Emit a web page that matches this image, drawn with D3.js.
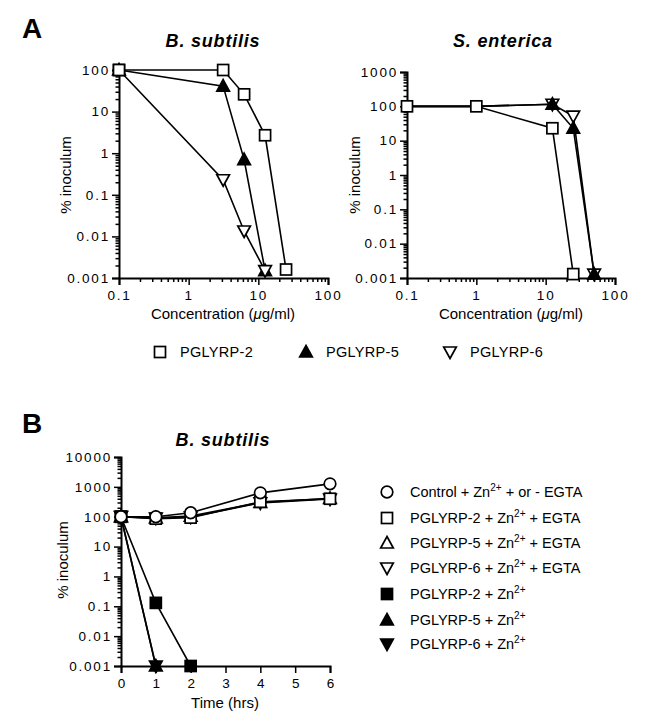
<!DOCTYPE html>
<html><head><meta charset="utf-8">
<script src="https://cdn.jsdelivr.net/npm/d3@7"></script>
<style>
body{margin:0;background:#fff;}
text{font-family:"Liberation Sans",Arial,sans-serif;fill:#000;}
</style></head>
<body><svg id="c" width="647" height="720"></svg>
<script>
// ---- Data ----
const concBS = [0.1, 3.125, 6.25, 12.5, 25];
const bsP2 = [100, 100, 26, 2.7, 0.0016];
const bsP5 = [100, 41, 0.7, 0.0015];
const bsP6 = [100, 0.23, 0.0135, 0.0015];

const concSE = [0.1, 1, 12.5, 25, 50];
const seP2 = [100, 100, 23, 0.0013];
const seP5 = [100, 100, 115, 23, 0.0013];
const seP6 = [100, 100, 115, 52, 0.0013];

const hours = [0, 1, 2, 4, 6];
const ctrl = [100, 100, 136, 630, 1260];
const p2E = [100, 86, 93, 316, 400];
const p5E = [100, 92, 105, 300, 410];
const p6E = [100, 90, 98, 290, 390];
const p2Zn = [100, 0.13, 0.001];
const p5Zn = [100, 0.001];
const p6Zn = [100, 0.001];

const concTicks = [0.1, 1, 10, 100];
const concTickLabels = ["0.1", "1", "10", "100"];
const yTicksA1 = [0.001, 0.01, 0.1, 1, 10, 100];
const yTicksA2 = [0.001, 0.01, 0.1, 1, 10, 100, 1000];
const yTicksB = [0.001, 0.01, 0.1, 1, 10, 100, 1000, 10000];
const yTickLabels = {0.001:"0.001",0.01:"0.01",0.1:"0.1",1:"1",10:"10",100:"100",1000:"1000",10000:"10000"};
const hourTicks = [0, 1, 2, 3, 4, 5, 6];

const legendA = ["PGLYRP-2", "PGLYRP-5", "PGLYRP-6"];
const legendB = [
  ["Control + Zn", "2+", " + or - EGTA"],
  ["PGLYRP-2 + Zn", "2+", " + EGTA"],
  ["PGLYRP-5 + Zn", "2+", " + EGTA"],
  ["PGLYRP-6 + Zn", "2+", " + EGTA"],
  ["PGLYRP-2 + Zn", "2+", ""],
  ["PGLYRP-5 + Zn", "2+", ""],
  ["PGLYRP-6 + Zn", "2+", ""]
];

// ---- Helpers ----
const svg = d3.select("#c");

function minorsLog(lo, hi){
  const out=[];
  for(let e=Math.round(Math.log10(lo)); e<Math.round(Math.log10(hi)); e++){
    for(let k=2;k<=9;k++) out.push(k*Math.pow(10,e));
  }
  return out;
}

function marker(g, type, x, y){
  const open = ["osq","otu","otd","oc"].includes(type);
  const fill = open ? "#fff" : "#000";
  let el;
  if(type==="osq"||type==="fsq"){
    el = g.append("rect").attr("x",x-5.5).attr("y",y-5.5).attr("width",11).attr("height",11);
  } else if(type==="oc"){
    el = g.append("circle").attr("cx",x).attr("cy",y).attr("r",5.8);
  } else if(type==="otu"||type==="ftu"){
    el = g.append("path").attr("d",`M${x},${y-6.5}L${x+6.3},${y+5}L${x-6.3},${y+5}Z`);
  } else {
    el = g.append("path").attr("d",`M${x},${y+6.5}L${x+6.3},${y-5}L${x-6.3},${y-5}Z`);
  }
  el.attr("fill",fill).attr("stroke","#000").attr("stroke-width",1.7).attr("stroke-linejoin","miter");
}

function series(g, xs, ys, xS, yS){
  const pts = ys.map((v,i)=>[xS(xs[i]), yS(v)]);
  g.append("path").attr("d", d3.line()(pts)).attr("fill","none").attr("stroke","#000").attr("stroke-width",1.6);
  return pts;
}

function yAxisLog(yS, ticks, x0){
  const g = svg.append("g").attr("transform",`translate(${x0},0)`);
  g.call(d3.axisLeft(yS).tickValues(ticks).tickSize(7).tickFormat(d=>yTickLabels[d]));
  const d = yS.domain();
  const gm = svg.append("g").attr("transform",`translate(${x0},0)`);
  gm.call(d3.axisLeft(yS).tickValues(minorsLog(d[0],d[1])).tickSize(3.5).tickFormat(""));
  [g,gm].forEach(a=>{
    a.select(".domain").attr("stroke","#000").attr("stroke-width",2);
    a.selectAll(".tick line").attr("stroke","#000").attr("stroke-width",1.5);
  });
  gm.select(".domain").remove();
  g.selectAll(".tick text").attr("font-size",13.5).attr("letter-spacing","1.8px").attr("x",-9)
    .attr("font-family","'Liberation Sans',Arial,sans-serif");
  return g;
}

function xAxisLog(xS, y0){
  const g = svg.append("g").attr("transform",`translate(0,${y0})`);
  g.call(d3.axisBottom(xS).tickValues(concTicks).tickSize(7).tickFormat((d,i)=>concTickLabels[i]));
  const gm = svg.append("g").attr("transform",`translate(0,${y0})`);
  gm.call(d3.axisBottom(xS).tickValues(minorsLog(0.1,100)).tickSize(4).tickFormat(""));
  gm.select(".domain").remove();
  [g,gm].forEach(a=>{
    a.select(".domain").attr("stroke","#000").attr("stroke-width",2);
    a.selectAll(".tick line").attr("stroke","#000").attr("stroke-width",1.5);
  });
  g.selectAll(".tick text").attr("font-size",13.5).attr("letter-spacing","1.8px").attr("y",12)
    .attr("font-family","'Liberation Sans',Arial,sans-serif");
}

function title(x, y, t){
  svg.append("text").attr("x",x).attr("y",y).attr("text-anchor","middle")
    .attr("font-size",18).attr("font-weight","bold").attr("font-style","italic").attr("letter-spacing","0.8px").text(t);
}
function yLabel(x, y){
  svg.append("text").attr("transform",`translate(${x},${y}) rotate(-90)`).attr("text-anchor","middle")
    .attr("font-size",15).text("% inoculum");
}
function concLabel(x, y){
  const t = svg.append("text").attr("x",x).attr("y",y).attr("text-anchor","middle").attr("font-size",15);
  t.append("tspan").text("Concentration (");
  t.append("tspan").attr("font-style","italic").text("\u03bc");
  t.append("tspan").text("g/ml)");
}

// ---- Panel letters ----
svg.append("text").attr("x",22).attr("y",38).attr("font-size",28).attr("font-weight","bold").text("A");
svg.append("text").attr("x",22).attr("y",433).attr("font-size",28).attr("font-weight","bold").text("B");

// ---- Panel A left ----
{
  const xS = d3.scaleLog().domain([0.1,100]).range([119,328]);
  const yS = d3.scaleLog().domain([0.001,100]).range([278,70]);
  title(213,47,"B. subtilis");
  const g = svg.append("g");
  const a = series(g, concBS, bsP2, xS, yS);
  const b = series(g, concBS, bsP5, xS, yS);
  const c = series(g, concBS, bsP6, xS, yS);
  xAxisLog(xS, 278);
  yAxisLog(yS, yTicksA1, 119);
  const gm = svg.append("g");
  a.forEach(p=>marker(gm,"osq",p[0],p[1]));
  b.forEach(p=>marker(gm,"ftu",p[0],p[1]));
  c.slice(1).forEach(p=>marker(gm,"otd",p[0],p[1]));
  marker(gm,"osq",a[0][0],a[0][1]);
  yLabel(71,175);
  concLabel(223,319);
}

// ---- Panel A right ----
{
  const xS = d3.scaleLog().domain([0.1,100]).range([407,615]);
  const yS = d3.scaleLog().domain([0.001,1000]).range([278,72]);
  title(503,47,"S. enterica");
  const g = svg.append("g");
  const a = series(g, concSE, seP2, xS, yS);
  const b = series(g, concSE, seP5, xS, yS);
  const c = series(g, concSE, seP6, xS, yS);
  xAxisLog(xS, 278);
  yAxisLog(yS, yTicksA2, 407);
  const gm = svg.append("g");
  c.slice(2).forEach(p=>marker(gm,"otd",p[0],p[1]));
  b.slice(2).forEach(p=>marker(gm,"ftu",p[0],p[1]));
  a.forEach(p=>marker(gm,"osq",p[0],p[1]));
  yLabel(360,175);
  concLabel(511,319);
}

// ---- Legend A ----
{
  const g = svg.append("g");
  const xs = [160, 306, 450];
  const types = ["osq","ftu","otd"];
  legendA.forEach((t,i)=>{
    marker(g, types[i], xs[i], 352);
    g.append("text").attr("x",xs[i]+20).attr("y",357).attr("font-size",14.5).attr("letter-spacing","0.3px").text(t);
  });
}

// ---- Panel B ----
{
  const xS = d3.scaleLinear().domain([0,6]).range([121,330]);
  const yS = d3.scaleLog().domain([0.001,10000]).range([666,457]);
  title(223,446,"B. subtilis");
  const g = svg.append("g");
  const s6z = series(g, hours, p6Zn, xS, yS);
  const s5z = series(g, hours, p5Zn, xS, yS);
  const s2z = series(g, hours, p2Zn, xS, yS);
  const s6e = series(g, hours, p6E, xS, yS);
  const s5e = series(g, hours, p5E, xS, yS);
  const s2e = series(g, hours, p2E, xS, yS);
  const sc = series(g, hours, ctrl, xS, yS);
  const gx = svg.append("g").attr("transform","translate(0,666)");
  gx.call(d3.axisBottom(xS).tickValues(hourTicks).tickSize(7).tickFormat(d3.format("d")));
  gx.select(".domain").attr("stroke","#000").attr("stroke-width",2);
  gx.selectAll(".tick line").attr("stroke","#000").attr("stroke-width",1.5);
  gx.selectAll(".tick text").attr("font-size",13.5).attr("y",12).attr("font-family","'Liberation Sans',Arial,sans-serif");
  yAxisLog(yS, yTicksB, 121);
  const gm = svg.append("g");
  s6z.forEach(p=>marker(gm,"ftd",p[0],p[1]));
  s5z.forEach(p=>marker(gm,"ftu",p[0],p[1]));
  s2z.forEach(p=>marker(gm,"fsq",p[0],p[1]));
  s6e.forEach(p=>marker(gm,"otd",p[0],p[1]));
  s5e.forEach(p=>marker(gm,"otu",p[0],p[1]));
  s2e.forEach(p=>marker(gm,"osq",p[0],p[1]));
  sc.forEach(p=>marker(gm,"oc",p[0],p[1]));
  yLabel(68,560);
  svg.append("text").attr("x",225).attr("y",708).attr("text-anchor","middle").attr("font-size",15).text("Time (hrs)");
}

// ---- Legend B ----
{
  const g = svg.append("g");
  const types = ["oc","osq","otu","otd","fsq","ftu","ftd"];
  const rows = [492, 518, 543, 568, 594, 620, 644];
  legendB.forEach((parts,i)=>{
    marker(g, types[i], 387, rows[i]);
    const t = g.append("text").attr("x",410).attr("y",rows[i]+5).attr("font-size",14.5);
    t.append("tspan").text(parts[0]);
    t.append("tspan").attr("font-size",10).attr("dy",-6).text(parts[1]);
    t.append("tspan").attr("dy",6).text(parts[2]);
  });
}
</script></body></html>
